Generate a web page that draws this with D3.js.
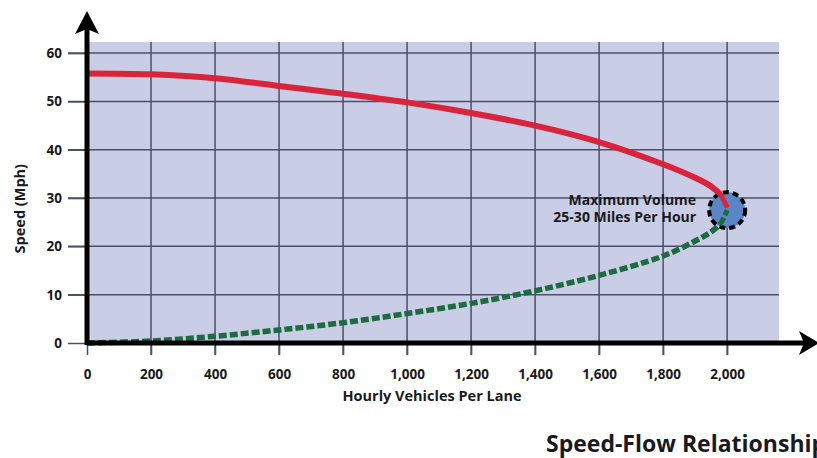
<!DOCTYPE html>
<html>
<head>
<meta charset="utf-8">
<script src="https://cdn.jsdelivr.net/npm/d3@7"></script>
<style>
  body { margin: 0; background: #fff; }
  text { font-family: "Open Sans", Lato, sans-serif; font-weight: 700; fill: #1a1a1a; }
</style>
</head>
<body>
<div id="chart"></div>
<script>
// tick values
const xTicks = [0, 200, 400, 600, 800, 1000, 1200, 1400, 1600, 1800, 2000];
const yTicks = [0, 10, 20, 30, 40, 50, 60];

// upper branch (free flow)
const flowFree = [0, 200, 400, 600, 800, 1000, 1200, 1400, 1600, 1800, 1900, 1950, 1980, 2000];
const speedFree = [55.8, 55.6, 54.8, 53.2, 51.6, 49.8, 47.6, 45, 41.6, 37, 34.2, 32.4, 30.6, 28];

// lower branch (congested)
const flowCong = [0, 200, 400, 600, 800, 1000, 1200, 1400, 1600, 1800, 1900, 1950, 1980, 2000];
const speedCong = [0, 0.4, 1.4, 2.7, 4.2, 6.1, 8.2, 10.8, 14, 18, 21.1, 23, 24.8, 27.5];

const maxPoint = { flow: 2000, speed: 27.5 };
const labelLines = ["Maximum Volume", "25-30 Miles Per Hour"];

const width = 817, height = 458;
const margin = { top: 42, left: 87, right: 38, bottom: 115 };

const svg = d3.select("#chart").append("svg")
  .attr("width", width)
  .attr("height", height);

const x = d3.scaleLinear().domain([0, 2162]).range([margin.left, width - margin.right]);
const y = d3.scaleLinear().domain([0, 62.3]).range([height - margin.bottom, margin.top]);

// plot background
svg.append("rect")
  .attr("x", x(0)).attr("y", y(62.3))
  .attr("width", x(2162) - x(0)).attr("height", y(0) - y(62.3))
  .attr("fill", "#c9cde6");

// grid
svg.append("g").selectAll("line")
  .data(xTicks.slice(1)).enter().append("line")
  .attr("x1", d => x(d)).attr("x2", d => x(d))
  .attr("y1", y(62.3)).attr("y2", y(0) + 12)
  .attr("stroke", "#4b4f68").attr("stroke-width", 1.5);

svg.append("g").selectAll("line")
  .data(yTicks.slice(1)).enter().append("line")
  .attr("x1", x(0) - 19).attr("x2", x(2162))
  .attr("y1", d => y(d)).attr("y2", d => y(d))
  .attr("stroke", "#4b4f68").attr("stroke-width", 1.5);

// tick labels via d3 axes (no domain)
const xAxis = svg.append("g")
  .attr("transform", "translate(0," + y(0) + ")")
  .call(d3.axisBottom(x).tickValues(xTicks).tickSize(12).tickPadding(14)
    .tickFormat(d3.format(",")));
xAxis.select(".domain").remove();
xAxis.selectAll("line").attr("stroke", "#4b4f68").attr("stroke-width", 1.5);
xAxis.selectAll("text").style("font-size", "13.5px").attr("fill", "#1a1a1a");

const yAxis = svg.append("g")
  .attr("transform", "translate(" + x(0) + ",0)")
  .call(d3.axisLeft(y).tickValues(yTicks).tickSize(19).tickPadding(6));
yAxis.select(".domain").remove();
yAxis.selectAll("line").attr("stroke", "#4b4f68").attr("stroke-width", 1.5);
yAxis.selectAll("text").style("font-size", "13.5px").attr("fill", "#1a1a1a");

// curves
const line = d3.line()
  .x(d => x(d[0])).y(d => y(d[1]))
  .curve(d3.curveCatmullRom.alpha(0.5));

svg.append("path")
  .datum(flowCong.map((f, i) => [f, speedCong[i]]))
  .attr("d", line)
  .attr("fill", "none")
  .attr("stroke", "#1d6b40")
  .attr("stroke-width", 5.5)
  .attr("stroke-dasharray", "8,3");

svg.append("path")
  .datum(flowFree.map((f, i) => [f, speedFree[i]]))
  .attr("d", line)
  .attr("fill", "none")
  .attr("stroke", "#d9253b")
  .attr("stroke-width", 6);

// main axis lines with arrows
svg.append("line")
  .attr("x1", x(0)).attr("x2", width - 10)
  .attr("y1", y(0)).attr("y2", y(0))
  .attr("stroke", "#000").attr("stroke-width", 5);
svg.append("path")
  .attr("d", `M${width - 18},${y(0) - 12} L${width + 2},${y(0)} L${width - 18},${y(0) + 12} L${width - 13},${y(0)} Z`)
  .attr("fill", "#000");

svg.append("line")
  .attr("x1", x(0)).attr("x2", x(0))
  .attr("y1", y(0) + 2).attr("y2", 22)
  .attr("stroke", "#000").attr("stroke-width", 5);
svg.append("path")
  .attr("d", `M${x(0) - 12},${34} L${x(0)},${11} L${x(0) + 12},${34} L${x(0)},${29} Z`)
  .attr("fill", "#000");

// max volume marker
svg.append("circle")
  .attr("cx", x(maxPoint.flow)).attr("cy", y(maxPoint.speed))
  .attr("r", 18)
  .attr("fill", "#5b86c6")
  .attr("stroke", "#000")
  .attr("stroke-width", 4)
  .attr("stroke-dasharray", "6,4");

// curve ends drawn over the circle
svg.append("path")
  .datum(flowFree.slice(-4).map((f, i) => [f, speedFree[speedFree.length - 4 + i]]))
  .attr("d", line)
  .attr("fill", "none").attr("stroke", "#d9253b").attr("stroke-width", 5);
svg.append("path")
  .datum(flowCong.slice(-3).map((f, i) => [f, speedCong[speedCong.length - 3 + i]]))
  .attr("d", line)
  .attr("fill", "none").attr("stroke", "#1d6b40").attr("stroke-width", 5)
  .attr("stroke-dasharray", "8,3");

// annotation, two lines
svg.selectAll("text.note").data(labelLines).enter().append("text")
  .attr("class", "note")
  .attr("text-anchor", "end")
  .attr("x", x(maxPoint.flow) - 31)
  .attr("y", (d, i) => y(maxPoint.speed) - 5 + i * 17)
  .style("font-size", "14px")
  .text(d => d);

// axis titles
svg.append("text")
  .attr("transform", "translate(25," + y(27.8) + ") rotate(-90)")
  .attr("text-anchor", "middle")
  .style("font-size", "14.5px")
  .text("Speed (Mph)");

svg.append("text")
  .attr("x", 432).attr("y", 401)
  .attr("text-anchor", "middle")
  .style("font-size", "14.5px")
  .text("Hourly Vehicles Per Lane");

// title runs off the right edge, as in the original
svg.append("text")
  .attr("x", 546).attr("y", 452)
  .style("font-size", "23px")
  .text("Speed-Flow Relationship");
</script>
</body>
</html>
